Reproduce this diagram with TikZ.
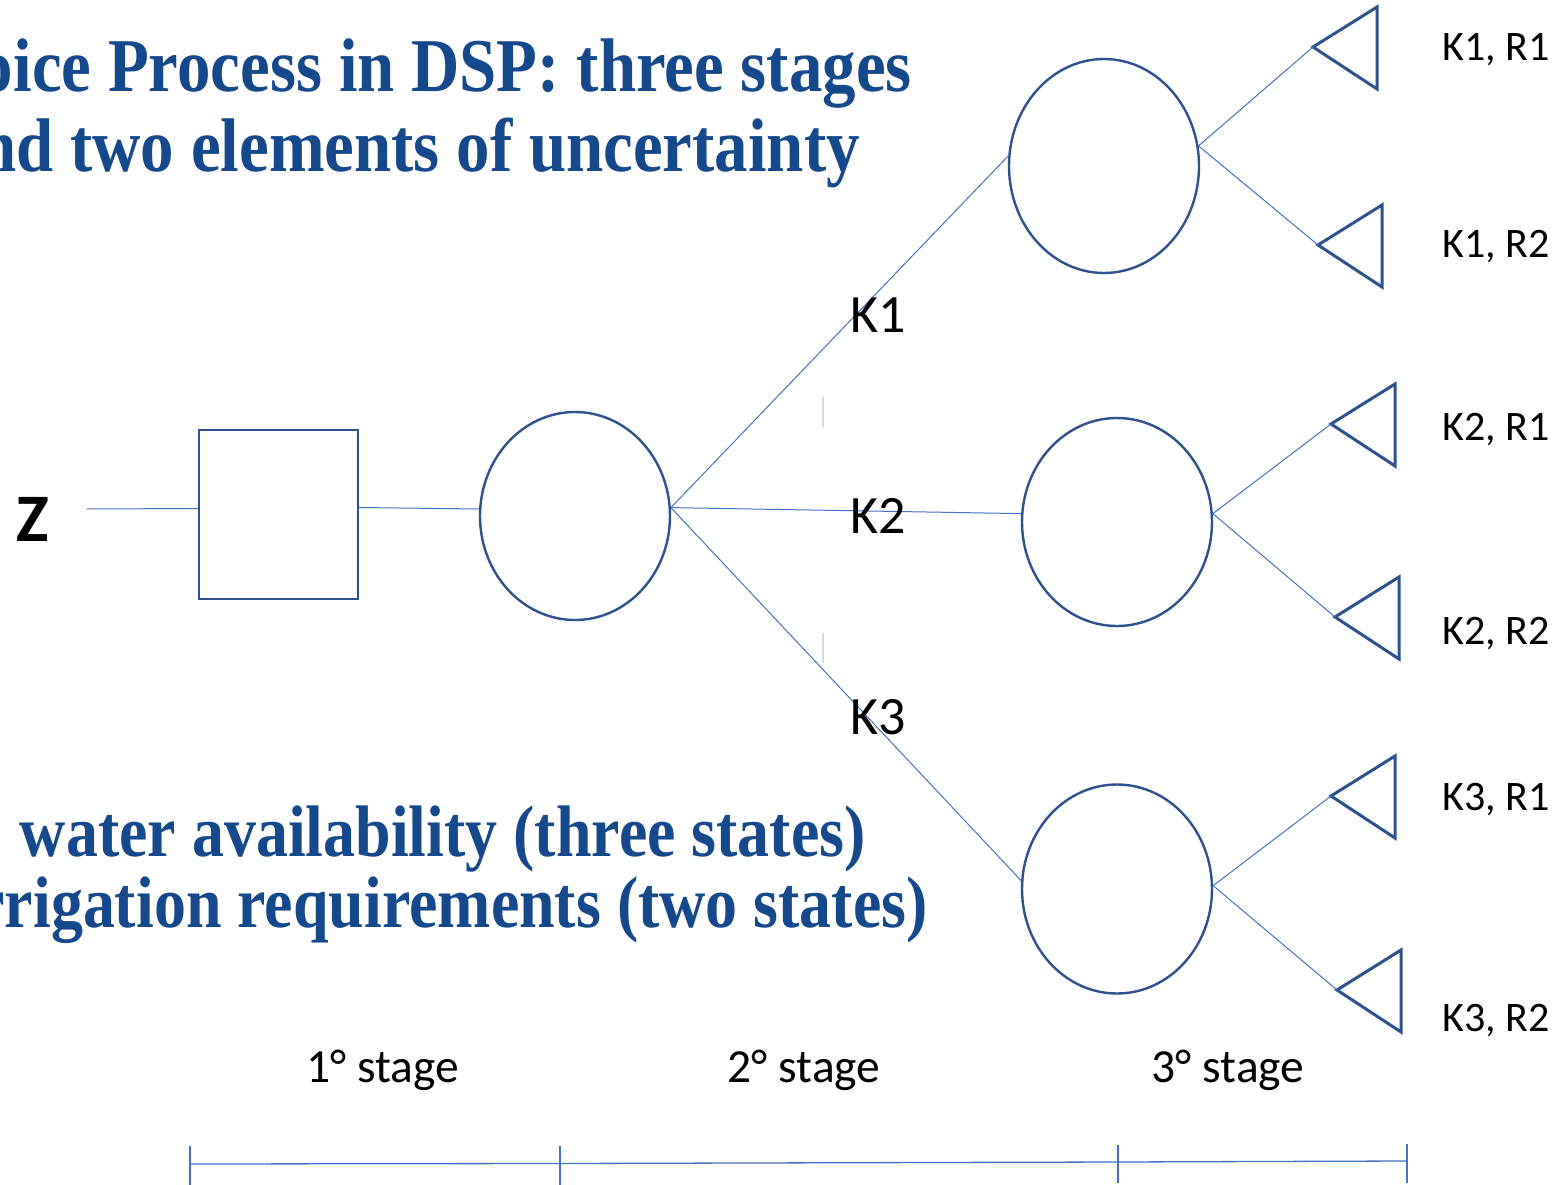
\documentclass[tikz,border=0pt]{standalone}
\usepackage{fontspec}
\setmainfont{Liberation Serif}
\newfontfamily\calib{Carlito}
\usetikzlibrary{shapes.geometric}
\definecolor{outl}{RGB}{47,82,143}
\definecolor{conn}{RGB}{68,114,196}
\definecolor{ttl}{RGB}{22,72,140}
\tikzset{
  ell/.style={ellipse, draw=outl, line width=2.4pt, minimum width=190pt, minimum height=208pt, inner sep=0pt},
  sq/.style={rectangle, draw=outl, line width=2.4pt, minimum width=159pt, minimum height=169pt, inner sep=0pt},
  tri/.style={draw=outl, line width=3pt, line join=miter},
  cn/.style={draw=conn, line width=1pt},
  ttltext/.style={text=ttl, inner sep=0pt, font=\fontsize{76}{80}\selectfont\bfseries},
  bottext/.style={text=ttl, inner sep=0pt, font=\fontsize{73}{80}\selectfont\bfseries},
  leaf/.style={font=\calib\fontsize{42}{50}\selectfont, inner sep=0pt},
  klab/.style={font=\calib\fontsize{54}{60}\selectfont, inner sep=0pt},
  stg/.style={font=\calib\fontsize{47.5}{54}\selectfont, inner sep=0pt},
  axis/.style={draw=conn, line width=1.3pt},
  stray/.style={draw=black!15, line width=2pt}
}
\begin{document}
\begin{tikzpicture}[x=1pt, y=-1pt]
\useasboundingbox (0,0) rectangle (1564,1185);
\clip (0,0) rectangle (1564,1185);
\fill[white] (0,0) rectangle (1564,1185);

% titles
\node[ttltext, anchor=base east] (t1) at (912,92) {\scalebox{0.88}[1]{Choice Process in DSP: three stages}};
\node[ttltext, anchor=base east] (t2) at (860,172) {\scalebox{0.88}[1]{and two elements of uncertainty}};
\node[bottext, anchor=base east] (b1) at (866,856) {\scalebox{0.876}[1]{water availability (three states)}};
\node[bottext, anchor=base east] (b2) at (928,927) {\scalebox{0.876}[1]{irrigation requirements (two states)}};

% Z
\node[font=\calib\fontsize{68}{70}\selectfont\bfseries, inner sep=0pt] (z) at (33,519) {Z};
\coordinate (zs) at (87,509);

% nodes
\node[sq] (sq) at (278.5,514.5) {};
\node[ell] (c0) at (575,516) {};
\node[ell, minimum height=214pt] (c1) at (1104,166) {};
\node[ell] (c2) at (1117,522) {};
\node[ell, minimum height=209pt] (c3) at (1117,889) {};

% triangle apexes
\coordinate (p1) at (1313,47);
\coordinate (p2) at (1318,245);
\coordinate (p3) at (1331,424);
\coordinate (p4) at (1335,617);
\coordinate (p5) at (1331,796);
\coordinate (p6) at (1337,990);
\foreach \p in {p1,p2,p3,p4,p5,p6}
  \draw[tri] (\p) -- ++(64,-40) -- ++(0,82) -- cycle;

% connectors
\draw[cn] (zs) -- ([yshift=6pt]sq.west);
\draw[cn] ([yshift=7pt]sq.east) -- ([yshift=7pt]c0.west);
\draw[cn] (c0.5) -- (c1.174);
\draw[cn] (c0.5) -- (c2.175);
\draw[cn] (c0.5) -- (c3.175);
\draw[cn] (c1.12) -- (p1);
\draw[cn] (c1.12) -- (p2);
\draw[cn] (c2.5) -- (p3);
\draw[cn] (c2.5) -- (p4);
\draw[cn] (c3.2) -- (p5);
\draw[cn] (c3.2) -- (p6);

% labels
\node[klab] (k1) at (878,315) {K1};
\node[klab] (k2) at (878,516) {K2};
\node[klab] (k3) at (878,717) {K3};

\node[leaf] (l1) at (1496,50) {K1, R1};
\node[leaf] (l2) at (1496,247) {K1, R2};
\node[leaf] (l3) at (1496,430) {K2, R1};
\node[leaf] (l4) at (1496,634) {K2, R2};
\node[leaf] (l5) at (1496,800) {K3, R1};
\node[leaf] (l6) at (1496,1021) {K3, R2};

% stray marks
\draw[stray] (823,397) -- (823,427);
\draw[stray] (823,633) -- (823,663);

% stages
\node[stg] (s1) at (383,1070) {1° stage};
\node[stg] (s2) at (804,1070) {2° stage};
\node[stg] (s3) at (1228,1070) {3° stage};

% axis
\coordinate (a0) at (190,1164);
\coordinate (a1) at (560,1163.5);
\coordinate (a2) at (1118,1162);
\coordinate (a3) at (1407,1161);
\draw[axis] (a0) -- (a1) -- (a2) -- (a3);
\draw[axis] (190,1146) -- (190,1185);
\draw[axis] (560,1146) -- (560,1185);
\draw[axis] (1118,1145) -- (1118,1183);
\draw[axis] (1407,1144) -- (1407,1183);
\end{tikzpicture}
\end{document}
